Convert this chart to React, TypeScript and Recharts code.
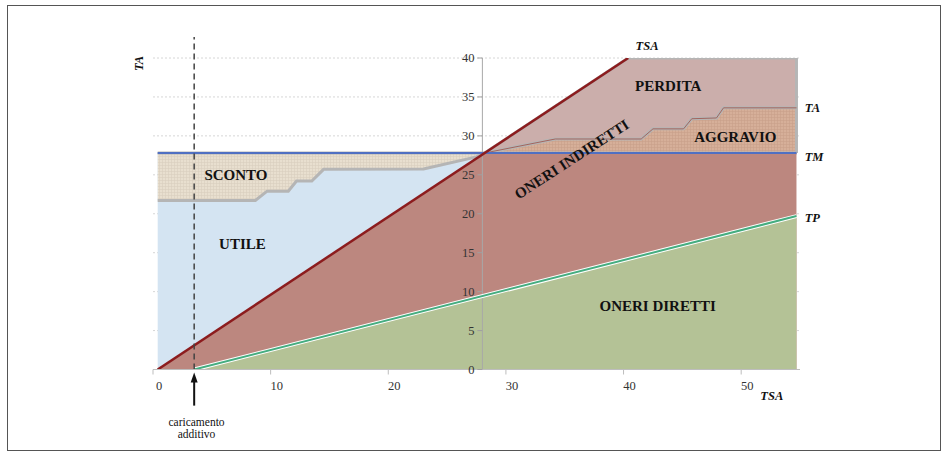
import React from "react";
import {
  ComposedChart,
  Area,
  Line,
  XAxis,
  YAxis,
  CartesianGrid,
  ReferenceLine,
  ReferenceDot,
} from "recharts";

// layout (px)
const W = 948;
const H = 457;
const PLOT_LEFT = 153;
const PLOT_RIGHT = 800;
const PLOT_TOP = 58;
const PLOT_BOTTOM = 369.5;
const X_AXIS_H = 30;

const X_MAX = 55;
const Y_MAX = 40;
const Y_AXIS_AT = 28;

// data
const X_TICKS = [0, 10, 20, 30, 40, 50];
const Y_TICKS = [0, 5, 10, 15, 20, 25, 30, 35, 40];

const TM = 27.8;
const CROSS_X = 28.2;
const START_X = 0.4;
const END_X = 54.7;
const CARICAMENTO = 3.5;
const TOP_Y = 40;

const TSA_LINE = [
  { x: 0.4, v: 0 },
  { x: 40.4, v: 40 },
];
const TP_LINE = [
  { x: 3.5, v: 0 },
  { x: 54.7, v: 19.7 },
];
const TM_LINE = [
  { x: 0.4, v: TM },
  { x: 54.7, v: TM },
];
const TA_STEPS = [
  { x: 28.2, v: 27.8 },
  { x: 34.2, v: 29.6 },
  { x: 41.5, v: 29.6 },
  { x: 42.5, v: 30.9 },
  { x: 45.1, v: 30.9 },
  { x: 45.8, v: 32.2 },
  { x: 47.9, v: 32.3 },
  { x: 48.5, v: 33.6 },
  { x: 54.7, v: 33.6 },
];
const SCONTO_FLOOR = [
  { x: 0.4, v: 21.7 },
  { x: 8.7, v: 21.7 },
  { x: 9.7, v: 22.9 },
  { x: 11.5, v: 22.9 },
  { x: 12.2, v: 24.2 },
  { x: 13.5, v: 24.2 },
  { x: 14.5, v: 25.7 },
  { x: 23, v: 25.75 },
  { x: 27.5, v: 27.3 },
  { x: 28.2, v: 27.8 },
];

// bands built from the lines above
const utileBox = [
  { x: START_X, r: [0, TM] },
  { x: CROSS_X, r: [0, TM] },
];
const scontoBand = SCONTO_FLOOR.map((p) => ({ x: p.x, r: [p.v, TM] }));
const perditaBand = [
  { x: CROSS_X, r: [TM, TM] },
  { x: TSA_LINE[1].x, r: [TM, TOP_Y] },
  { x: END_X, r: [TM, TOP_Y] },
];
const aggravioBand = TA_STEPS.map((p) => ({ x: p.x, r: [TM, p.v] }));
const indirettiBand = [
  { x: START_X, r: [0, 0] },
  { x: CROSS_X, r: [0, TM] },
  { x: END_X, r: [0, TM] },
];

const SERIF = "'Liberation Serif', 'Times New Roman', serif";
const OUTLINE = "#b5b5b5";

const XTick = (props: any) => {
  const { x, y, payload } = props;
  return (
    <text
      x={x + 6}
      y={y}
      dy={13}
      textAnchor="middle"
      fontSize={12.5}
      fontFamily={SERIF}
      fill="#333"
    >
      {payload.value}
    </text>
  );
};

// y ticks are drawn at the inner axis (x = 28) instead
const NoTick = () => <g />;

function note(
  key: string,
  x: number,
  y: number,
  text: string,
  opts: { size?: number; italic?: boolean; bold?: boolean; angle?: number; anchor?: string } = {}
) {
  const { size = 15, italic = false, bold = true, angle = 0, anchor = "middle" } = opts;
  return (
    <ReferenceDot
      key={key}
      x={x}
      y={y}
      r={0}
      ifOverflow="visible"
      isFront
      shape={(p: any) => (
        <text
          x={p.cx}
          y={p.cy}
          textAnchor={anchor as any}
          dominantBaseline="central"
          fontFamily={SERIF}
          fontSize={size}
          fontWeight={bold ? "bold" : "normal"}
          fontStyle={italic ? "italic" : "normal"}
          fill="#111"
          transform={angle ? `rotate(${angle} ${p.cx} ${p.cy})` : undefined}
        >
          {text}
        </text>
      )}
    />
  );
}

export default function App() {
  return (
    <div style={{ position: "absolute", left: 0, top: 0, width: W, height: H, background: "#fff" }}>
      <svg width={0} height={0} style={{ position: "absolute" }}>
        <defs>
          <pattern id="linen" width="3" height="3" patternUnits="userSpaceOnUse">
            <rect width="3" height="3" fill="#e8dfcf" />
            <path d="M0,0.5 H3 M0.5,0 V3" stroke="#d9cfbd" strokeWidth="0.6" />
          </pattern>
          <pattern id="weave" width="3" height="3" patternUnits="userSpaceOnUse">
            <rect width="3" height="3" fill="#d6af99" />
            <path d="M0,0.5 H3 M0.5,0 V3" stroke="#c9a08a" strokeWidth="0.6" />
          </pattern>
        </defs>
      </svg>
      <div
        style={{
          position: "absolute",
          left: 7,
          top: 5,
          width: 934,
          height: 446,
          border: "1.5px solid #555",
          boxSizing: "border-box",
        }}
      />
      <ComposedChart
        width={W}
        height={H}
        margin={{
          top: PLOT_TOP,
          right: W - PLOT_RIGHT,
          bottom: H - PLOT_BOTTOM - X_AXIS_H,
          left: PLOT_LEFT,
        }}
        style={{ position: "absolute", left: 0, top: 0 }}
      >
        <CartesianGrid vertical={false} strokeDasharray="2 2" stroke="#d6d6d6" />
        <XAxis
          type="number"
          dataKey="x"
          domain={[0, X_MAX]}
          ticks={X_TICKS}
          height={X_AXIS_H}
          axisLine={{ stroke: "#bdbdbd" }}
          tickLine={{ stroke: "#bdbdbd" }}
          tickSize={5}
          tick={<XTick />}
          allowDataOverflow
        />
        <YAxis
          type="number"
          domain={[0, Y_MAX]}
          ticks={Y_TICKS}
          width={0}
          axisLine={false}
          tickLine={false}
          tick={<NoTick />}
          allowDataOverflow
        />

        <Area data={utileBox} dataKey="r" type="linear" fill="#d4e4f2" fillOpacity={1} stroke={OUTLINE} strokeWidth={1.5} isAnimationActive={false} />
        <Area data={scontoBand} dataKey="r" type="linear" fill="url(#linen)" fillOpacity={1} stroke={OUTLINE} strokeWidth={3} isAnimationActive={false} />
        <Area data={perditaBand} dataKey="r" type="linear" fill="#cbaeab" fillOpacity={1} stroke={OUTLINE} strokeWidth={3} isAnimationActive={false} />
        <Area data={aggravioBand} dataKey="r" type="linear" fill="url(#weave)" fillOpacity={1} stroke={OUTLINE} strokeWidth={3} isAnimationActive={false} />
        <ReferenceLine
          segment={[
            { x: END_X, y: TM },
            { x: END_X, y: TOP_Y },
          ]}
          stroke={OUTLINE}
          strokeWidth={3}
        />
        <Area data={indirettiBand} dataKey="r" type="linear" fill="#bc877f" fillOpacity={1} stroke="none" isAnimationActive={false} />
        <Area data={TP_LINE} dataKey="v" type="linear" fill="#b4c296" fillOpacity={1} stroke="none" isAnimationActive={false} />

        <ReferenceLine x={Y_AXIS_AT} stroke="#a8a8a8" strokeWidth={1} />
        {Y_TICKS.map((t) => (
          <ReferenceDot
            key={`yt${t}`}
            x={Y_AXIS_AT}
            y={t}
            r={0}
            ifOverflow="visible"
            isFront
            shape={(p: any) => (
              <g>
                <line x1={p.cx - 5} x2={p.cx} y1={p.cy} y2={p.cy} stroke="#a0a0a0" />
                <text
                  x={p.cx - 8}
                  y={p.cy}
                  dy={4}
                  textAnchor="end"
                  fontSize={12.5}
                  fontFamily={SERIF}
                  fill="#333"
                >
                  {t}
                </text>
              </g>
            )}
          />
        ))}

        <Line data={TA_STEPS} dataKey="v" type="linear" stroke="#a3645d" strokeWidth={1} dot={false} isAnimationActive={false} />
        <Line data={TP_LINE} dataKey="v" type="linear" stroke="#ffffff" strokeWidth={4} dot={false} isAnimationActive={false} />
        <Line data={TP_LINE} dataKey="v" type="linear" stroke="#45ad80" strokeWidth={2} dot={false} isAnimationActive={false} />
        <Line data={TM_LINE} dataKey="v" type="linear" stroke="#5070c2" strokeWidth={2} dot={false} isAnimationActive={false} />
        <Line data={TSA_LINE} dataKey="v" type="linear" stroke="#8c1c1e" strokeWidth={2.5} dot={false} isAnimationActive={false} />

        <ReferenceLine
          segment={[
            { x: CARICAMENTO, y: 0 },
            { x: CARICAMENTO, y: 42.7 },
          ]}
          ifOverflow="visible"
          stroke="#444"
          strokeWidth={1.5}
          strokeDasharray="6 4"
        />
        <ReferenceDot
          x={CARICAMENTO}
          y={-0.4}
          r={0}
          ifOverflow="visible"
          isFront
          shape={(p: any) => (
            <g>
              <line x1={p.cx} x2={p.cx} y1={p.cy + 6} y2={p.cy + 33} stroke="#111" strokeWidth={2} />
              <path d={`M${p.cx},${p.cy} L${p.cx - 3.5},${p.cy + 10} L${p.cx + 3.5},${p.cy + 10} Z`} fill="#111" />
            </g>
          )}
        />

        {note("sconto", 7.05, 25.0, "SCONTO")}
        {note("utile", 7.6, 16.1, "UTILE")}
        {note("perdita", 43.8, 36.35, "PERDITA")}
        {note("aggravio", 49.5, 29.9, "AGGRAVIO")}
        {note("diretti", 42.9, 8.2, "ONERI DIRETTI")}
        {note("indiretti", 35.6, 27.0, "ONERI INDIRETTI", { angle: -33 })}
        {note("tsaTop", 42.0, 41.5, "TSA", { size: 12.5, italic: true })}
        {note("ta", 55.4, 33.6, "TA", { size: 12.5, italic: true, anchor: "start" })}
        {note("tm", 55.4, 27.35, "TM", { size: 12.5, italic: true, anchor: "start" })}
        {note("tp", 55.4, 19.5, "TP", { size: 12.5, italic: true, anchor: "start" })}
        {note("tsaBottom", 52.6, -3.4, "TSA", { size: 12.5, italic: true })}
        {note("taTitle", -1.2, 39.3, "TA", { size: 12.5, italic: true, angle: -90 })}
        {note("car1", 3.7, -6.7, "caricamento", { size: 11.5, bold: false })}
        {note("car2", 3.7, -8.3, "additivo", { size: 11.5, bold: false })}
      </ComposedChart>
    </div>
  );
}
